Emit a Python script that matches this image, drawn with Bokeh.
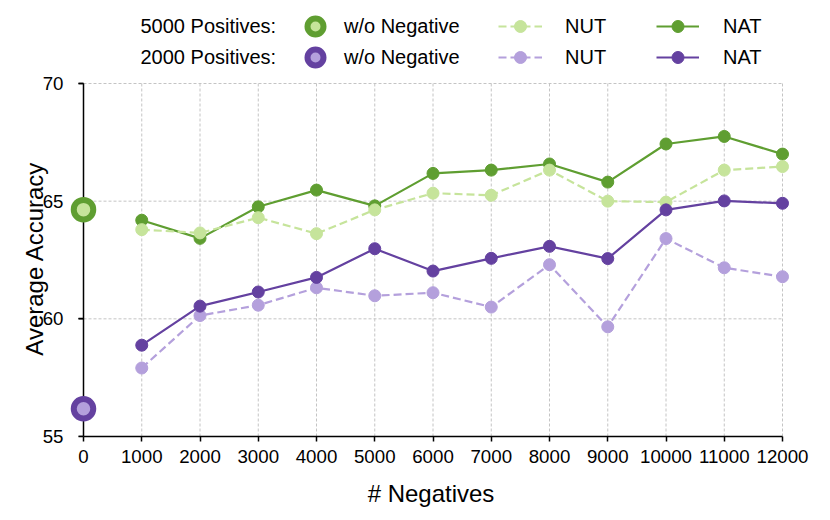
from bokeh.plotting import figure
from bokeh.models import Range1d, FixedTicker, Legend, LegendItem, Label
from bokeh.embed import file_html
from bokeh.resources import INLINE

# ---------------- data ----------------
negatives = [1000, 2000, 3000, 4000, 5000, 6000, 7000, 8000, 9000, 10000, 11000, 12000]
nat_5000 = [64.19, 63.42, 64.76, 65.47, 64.80, 66.18, 66.32, 66.58, 65.81, 67.43, 67.75, 67.00]
nut_5000 = [63.79, 63.65, 64.30, 63.62, 64.63, 65.34, 65.25, 66.32, 65.00, 64.96, 66.32, 66.47]
nat_2000 = [58.88, 60.54, 61.14, 61.76, 62.98, 62.03, 62.57, 63.08, 62.56, 64.63, 65.01, 64.91]
nut_2000 = [57.91, 60.14, 60.58, 61.32, 60.98, 61.11, 60.50, 62.30, 59.66, 63.41, 62.17, 61.79]
wo_neg_x = [0]
wo_neg_5000 = [64.64]
wo_neg_2000 = [56.18]

x_ticks = [0, 1000, 2000, 3000, 4000, 5000, 6000, 7000, 8000, 9000, 10000, 11000, 12000]
x_tick_labels = ["0", "1000", "2000", "3000", "4000", "5000", "6000", "7000", "8000",
                 "9000", "10000", "11000", "12000"]
y_ticks = [55, 60, 65, 70]
y_tick_labels = ["55", "60", "65", "70"]
row_titles = ["5000 Positives:", "2000 Positives:"]
x_title = "# Negatives"
y_title = "Average Accuracy"

# ---------------- style ----------------
FONT = "Liberation Sans"
DARK_GREEN = "#5f9e31"
LIGHT_GREEN = "#c6e49b"
DARK_PURPLE = "#6441a0"
LIGHT_PURPLE = "#b4a0dc"
GRID = "#c4c4c4"

# pixel geometry: plot area 699 x 353 px, frame extended left (for the x=0 rings)
# and upward (to hold the legend)
AX_W, AX_H = 699, 353
PAD_L, PAD_R, PAD_T = 14, 10, 83
TICK = 5
FRAME_W, FRAME_H = AX_W + PAD_L + PAD_R, AX_H + PAD_T
ppx = AX_W / (x_ticks[-1] - x_ticks[0])
ppy = AX_H / (y_ticks[-1] - y_ticks[0])

p = figure(
    frame_width=FRAME_W, frame_height=FRAME_H,
    min_border_left=69, min_border_right=30, min_border_top=0, min_border_bottom=76,
    x_range=Range1d(x_ticks[0] - PAD_L / ppx, x_ticks[-1] + PAD_R / ppx),
    y_range=Range1d(y_ticks[0], y_ticks[-1] + PAD_T / ppy),
    output_backend="svg", toolbar_location=None,
    background_fill_color="white", border_fill_color="white",
)
p.outline_line_color = None
p.xgrid.visible = False
p.ygrid.visible = False

# dashed grid lines from tick lists
vx = x_ticks[1:]
p.segment(x0=vx, x1=vx, y0=[y_ticks[0]] * len(vx), y1=[y_ticks[-1]] * len(vx),
          line_color=GRID, line_width=1, line_dash="3 2", level="underlay")
hy = y_ticks[1:]
p.segment(x0=[x_ticks[0]] * len(hy), x1=[x_ticks[-1]] * len(hy), y0=hy, y1=hy,
          line_color=GRID, line_width=1, line_dash="3 2", level="underlay")
# y axis line at x = 0, with its outward tick marks
p.segment(x0=[x_ticks[0]], x1=[x_ticks[0]], y0=[y_ticks[0]], y1=[y_ticks[-1]],
          line_color="black", line_width=1.5, level="underlay")
p.segment(x0=[x_ticks[0] - TICK / ppx] * len(y_ticks), x1=[x_ticks[0]] * len(y_ticks),
          y0=y_ticks, y1=y_ticks, line_color="black", line_width=1.5, level="underlay")

# axes
p.xaxis.ticker = FixedTicker(ticks=x_ticks)
p.xaxis.major_label_overrides = {t: l for t, l in zip(x_ticks, x_tick_labels)}
p.xaxis.bounds = (x_ticks[0], x_ticks[-1])
p.yaxis.ticker = FixedTicker(ticks=y_ticks)
p.yaxis.major_label_overrides = {t: l for t, l in zip(y_ticks, y_tick_labels)}
p.yaxis.bounds = (y_ticks[0], y_ticks[-1])
for ax in (p.xaxis, p.yaxis):
    ax.axis_line_color = "black"
    ax.axis_line_width = 1.5
    ax.major_tick_line_color = "black"
    ax.major_tick_line_width = 1.5
    ax.minor_tick_line_color = None
    ax.major_label_text_font = FONT
    ax.major_label_text_font_size = "18.7px"
    ax.major_label_text_color = "black"
    ax.axis_label_text_font = FONT
    ax.axis_label_text_font_size = "24px"
    ax.axis_label_text_font_style = "normal"
    ax.axis_label_text_color = "black"
p.xaxis.major_tick_out = TICK
p.xaxis.major_tick_in = 0
p.xaxis.axis_label = x_title
p.xaxis.major_label_standoff = 8
p.xaxis.axis_label_standoff = 14

# y axis sits at the frame edge; its ticks/labels are shifted to x = 0
p.yaxis.axis_line_color = None
p.yaxis.major_tick_in = PAD_L
p.yaxis.major_tick_out = TICK - PAD_L
p.yaxis.major_label_standoff = 6
# trailing no-break spaces centre the title on the 55-70 part of the taller frame
p.yaxis.axis_label = y_title + "\u00a0" * 12
p.yaxis.axis_label_standoff = -8

# series
LW = 2.2
DOT = 12
r_nat5_l = p.line(negatives, nat_5000, line_color=DARK_GREEN, line_width=LW)
r_nat5_s = p.scatter(negatives, nat_5000, size=DOT, color=DARK_GREEN)
r_nut5_l = p.line(negatives, nut_5000, line_color=LIGHT_GREEN, line_width=LW, line_dash="8 4")
r_nut5_s = p.scatter(negatives, nut_5000, size=DOT, color=LIGHT_GREEN)
r_nut2_l = p.line(negatives, nut_2000, line_color=LIGHT_PURPLE, line_width=LW, line_dash="8 4")
r_nut2_s = p.scatter(negatives, nut_2000, size=DOT, color=LIGHT_PURPLE)
r_nat2_l = p.line(negatives, nat_2000, line_color=DARK_PURPLE, line_width=LW)
r_nat2_s = p.scatter(negatives, nat_2000, size=DOT, color=DARK_PURPLE)

r_wo5 = p.scatter(wo_neg_x, wo_neg_5000, size=19.5, fill_color=LIGHT_GREEN,
                  line_color=DARK_GREEN, line_width=6, level="overlay")
r_wo2 = p.scatter(wo_neg_x, wo_neg_2000, size=19.5, fill_color=LIGHT_PURPLE,
                  line_color=DARK_PURPLE, line_width=6, level="overlay")


# legends (columns; the ring column is split per row)
def add_legend(items, x, y, gw, gh, spacing, standoff):
    lg = Legend(items=items, location=(x, y), orientation="vertical",
                glyph_width=gw, glyph_height=gh, label_standoff=standoff, spacing=spacing,
                padding=0, margin=0, border_line_color=None, background_fill_alpha=0,
                label_text_font=FONT, label_text_font_size="20px", label_text_color="black")
    p.add_layout(lg)


add_legend([LegendItem(label="w/o Negative", renderers=[r_wo5])], 226, 390, 40, 40, 0, 9)
add_legend([LegendItem(label="w/o Negative", renderers=[r_wo2])], 226, 359, 40, 40, 0, 9)
add_legend([LegendItem(label="NUT", renderers=[r_nut5_l, r_nut5_s]),
            LegendItem(label="NUT", renderers=[r_nut2_l, r_nut2_s])], 429, 364, 44, 30, 1, 23)
add_legend([LegendItem(label="NAT", renderers=[r_nat5_l, r_nat5_s]),
            LegendItem(label="NAT", renderers=[r_nat2_l, r_nat2_s])], 587, 364, 43, 30, 1, 24)

for title, ty in zip(row_titles, [410.3, 379.3]):
    p.add_layout(Label(x=71, y=ty, x_units="screen", y_units="screen", text=title,
                       text_font=FONT, text_font_size="20px", text_color="black",
                       text_baseline="middle", text_align="left"))

open("out.html", "w").write(file_html(p, INLINE))
